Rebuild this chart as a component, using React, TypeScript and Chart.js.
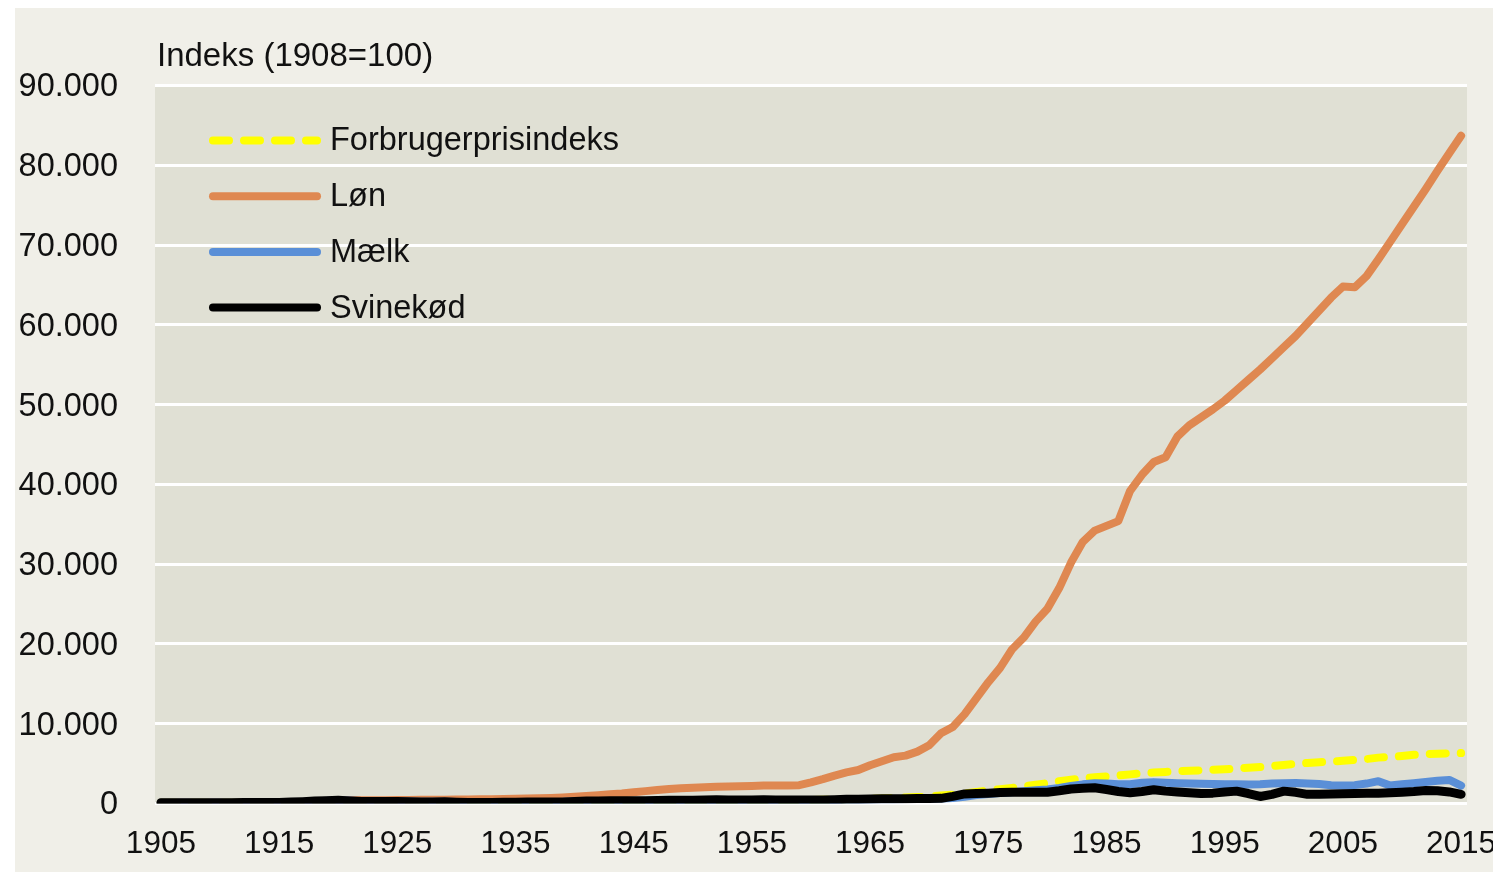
import React, { useEffect, useRef } from 'react';
import { Chart, registerables } from 'chart.js';

Chart.register(...registerables);

const FIRST_YEAR = 1905;
const LAST_YEAR = 2015;
const years: string[] = Array.from({ length: LAST_YEAR - FIRST_YEAR + 1 }, (_, i) => String(FIRST_YEAR + i));
const labelledYears = ['1905', '1915', '1925', '1935', '1945', '1955', '1965', '1975', '1985', '1995', '2005', '2015'];

const yAxisTitle = 'Indeks (1908=100)';
const yMin = 0;
const yMax = 90000;
const yStep = 10000;

const seriesNames = ['Forbrugerprisindeks', 'Løn', 'Mælk', 'Svinekød'];

const forbrugerprisindeks = [
  95, 97, 99, 100, 101,
  102, 104, 107, 108, 112,
  130, 150, 175, 200, 220,
  260, 225, 190, 190, 200,
  200, 175, 165, 165, 160,
  155, 145, 145, 148, 155,
  160, 163, 170, 173, 180,
  225, 255, 265, 270, 272,
  275, 275, 285, 295, 300,
  320, 355, 370, 370, 375,
  395, 415, 420, 425, 430,
  440, 460, 490, 520, 550,
  590, 640, 690, 750, 800,
  860, 1000, 1100, 1250, 1450,
  1650, 1800, 1960, 2150, 2350,
  2550, 2800, 2980, 3150, 3280,
  3380, 3500, 3650, 3780, 3880,
  3960, 4030, 4100, 4150, 4220,
  4300, 4380, 4480, 4580, 4700,
  4830, 4960, 5080, 5180, 5250,
  5350, 5470, 5570, 5750, 5820,
  5950, 6100, 6200, 6250, 6290,
  6320,
];

const loen = [
  90, 92, 96, 100, 102,
  105, 108, 112, 118, 122,
  135, 160, 200, 260, 330,
  420, 430, 400, 400, 420,
  440, 450, 460, 470, 480,
  500, 510, 520, 540, 560,
  580, 620, 660, 700, 760,
  850, 950, 1050, 1150, 1250,
  1400, 1550, 1700, 1820, 1900,
  1980, 2050, 2100, 2130, 2170,
  2200, 2250, 2260, 2250, 2300,
  2650, 3050, 3500, 3900, 4200,
  4800, 5300, 5800, 6000, 6500,
  7300, 8800, 9600, 11200, 13200,
  15200, 17000, 19300, 20800, 22800,
  24400, 27000, 30200, 32800, 34200,
  34800, 35400, 39200, 41200, 42800,
  43400, 46000, 47400, 48400, 49400,
  50500, 51800, 53100, 54400, 55800,
  57200, 58600, 60200, 61800, 63400,
  64800, 64700, 66100, 68200, 70400,
  72600, 74800, 77000, 79300, 81500,
  83700,
];

const maelk = [
  95, 97, 98, 100, 100,
  102, 103, 105, 107, 110,
  130, 160, 200, 260, 330,
  420, 380, 280, 270, 280,
  270, 240, 220, 220, 220,
  190, 160, 150, 160, 170,
  175, 185, 195, 200, 210,
  260, 290, 300, 300, 300,
  310, 320, 340, 350, 350,
  360, 390, 400, 390, 390,
  400, 410, 410, 410, 410,
  410, 420, 440, 460, 480,
  500, 520, 540, 560, 560,
  580, 620, 700, 850, 1050,
  1200, 1300, 1420, 1550, 1650,
  1750, 1950, 2200, 2400, 2550,
  2500, 2420, 2420, 2600, 2680,
  2600, 2550, 2520, 2480, 2450,
  2420, 2400, 2380, 2420, 2500,
  2550, 2570, 2520, 2450, 2300,
  2250, 2300, 2500, 2800, 2250,
  2400, 2550, 2700, 2850, 2950,
  2250,
];

const svinekoed = [
  95, 98, 100, 100, 98,
  100, 105, 110, 115, 115,
  140, 180, 230, 300, 360,
  420, 330, 250, 250, 260,
  260, 220, 190, 200, 210,
  170, 130, 120, 140, 150,
  170, 180, 190, 190, 200,
  260, 300, 320, 330, 330,
  340, 350, 380, 400, 410,
  420, 450, 460, 440, 440,
  450, 460, 440, 450, 440,
  440, 450, 480, 520, 540,
  560, 580, 600, 600, 620,
  640, 650, 900, 1200, 1250,
  1300, 1380, 1420, 1420, 1400,
  1420, 1600, 1820, 1900, 1980,
  1750, 1500, 1350, 1500, 1720,
  1550, 1450, 1350, 1250, 1300,
  1450, 1550, 1250, 880, 1150,
  1550, 1400, 1150, 1150, 1200,
  1220, 1250, 1280, 1300, 1350,
  1420, 1500, 1620, 1600, 1450,
  1150,
];

const PANEL_BG = '#F0EFE8';
const PLOT_BG = '#E0E0D4';
const TEXT = '#111111';
const FONT = '"Liberation Sans", Arial, Helvetica, sans-serif';
const colors = ['#FFFF00', '#DF8851', '#5A8FD7', '#000000'];
const widths = [8, 8, 8, 9];

function fmt(v: number): string {
  return String(v).replace(/\B(?=(\d{3})+(?!\d))/g, '.');
}

const plotBgPlugin = {
  id: 'plotBg',
  beforeDraw(chart: any) {
    const { ctx, chartArea } = chart;
    ctx.save();
    ctx.fillStyle = PLOT_BG;
    ctx.fillRect(chartArea.left, chartArea.top, chartArea.right - chartArea.left, chartArea.bottom - chartArea.top);
    ctx.restore();
  },
};

const titleAndLegendPlugin = {
  id: 'titleLegend',
  afterDraw(chart: any) {
    const { ctx, chartArea } = chart;
    ctx.save();
    ctx.fillStyle = TEXT;
    ctx.font = `33px ${FONT}`;
    ctx.textAlign = 'left';
    ctx.textBaseline = 'middle';
    ctx.fillText(yAxisTitle, chartArea.left + 2, chartArea.top - 29);

    const order = [0, 1, 2, 3];
    order.forEach((di, row) => {
      const ds = chart.data.datasets[di];
      const y = chartArea.top + 55 + row * 55.7;
      const x0 = chartArea.left + 58;
      const x1 = chartArea.left + 162;
      ctx.save();
      ctx.strokeStyle = ds.borderColor;
      ctx.lineWidth = 8;
      ctx.lineCap = 'round';
      ctx.setLineDash(ds.borderDash || []);
      ctx.beginPath();
      ctx.moveTo(x0, y);
      ctx.lineTo(x1, y);
      ctx.stroke();
      ctx.restore();
      ctx.fillStyle = TEXT;
      ctx.font = `32.5px ${FONT}`;
      ctx.fillText(ds.label, chartArea.left + 175, y + 1);
    });
    ctx.restore();
  },
};

export default function App() {
  const ref = useRef<HTMLCanvasElement | null>(null);

  useEffect(() => {
    if (!ref.current) return;
    const common = {
      borderCapStyle: 'round',
      borderJoinStyle: 'round',
      pointRadius: 0,
      tension: 0,
    };
    const chart = new Chart(ref.current, {
      type: 'line',
      data: {
        labels: years,
        datasets: [
          { ...common, label: seriesNames[0], data: forbrugerprisindeks, borderColor: colors[0], borderWidth: widths[0], borderDash: [16, 15], order: 4 },
          { ...common, label: seriesNames[1], data: loen, borderColor: colors[1], borderWidth: widths[1], order: 3 },
          { ...common, label: seriesNames[2], data: maelk, borderColor: colors[2], borderWidth: widths[2], order: 2 },
          { ...common, label: seriesNames[3], data: svinekoed, borderColor: colors[3], borderWidth: widths[3], order: 1 },
        ],
      },
      options: {
        animation: false,
        responsive: false,
        maintainAspectRatio: false,
        layout: { padding: { top: 77.5, right: 26, bottom: 0, left: 0 } },
        plugins: {
          legend: { display: false },
          tooltip: { enabled: false },
          title: { display: false },
        },
        scales: {
          x: {
            type: 'category',
            offset: true,
            grid: { display: false, drawTicks: false },
            border: { display: false },
            ticks: {
              autoSkip: false,
              maxRotation: 0,
              minRotation: 0,
              padding: 22,
              color: TEXT,
              font: { family: FONT, size: 31.5 },
              callback: function (this: any, _v: any, index: number) {
                const y = years[index];
                return labelledYears.includes(y) ? y : '';
              },
            },
            afterFit(scale: any) {
              scale.height = 68.5;
              scale.paddingLeft = 0;
              scale.paddingRight = 0;
            },
          },
          y: {
            min: yMin,
            max: yMax,
            grid: { color: '#FFFFFF', lineWidth: 3, drawTicks: false },
            border: { display: false },
            ticks: {
              stepSize: yStep,
              padding: 37,
              labelOffset: 2,
              color: TEXT,
              font: { family: FONT, size: 32.5 },
              callback: (v: any) => fmt(Number(v)),
            },
            afterFit(scale: any) {
              scale.width = 140;
              scale.paddingTop = 0;
              scale.paddingBottom = 0;
            },
          },
        },
      },
      plugins: [plotBgPlugin, titleAndLegendPlugin],
    } as any);
    return () => chart.destroy();
  }, []);

  return (
    <div
      style={{
        position: 'fixed',
        left: 15,
        top: 8,
        width: 1478,
        height: 864,
        background: PANEL_BG,
        overflow: 'hidden',
      }}
    >
      <canvas ref={ref} width={1478} height={864} style={{ display: 'block', width: 1478, height: 864 }} />
    </div>
  );
}
